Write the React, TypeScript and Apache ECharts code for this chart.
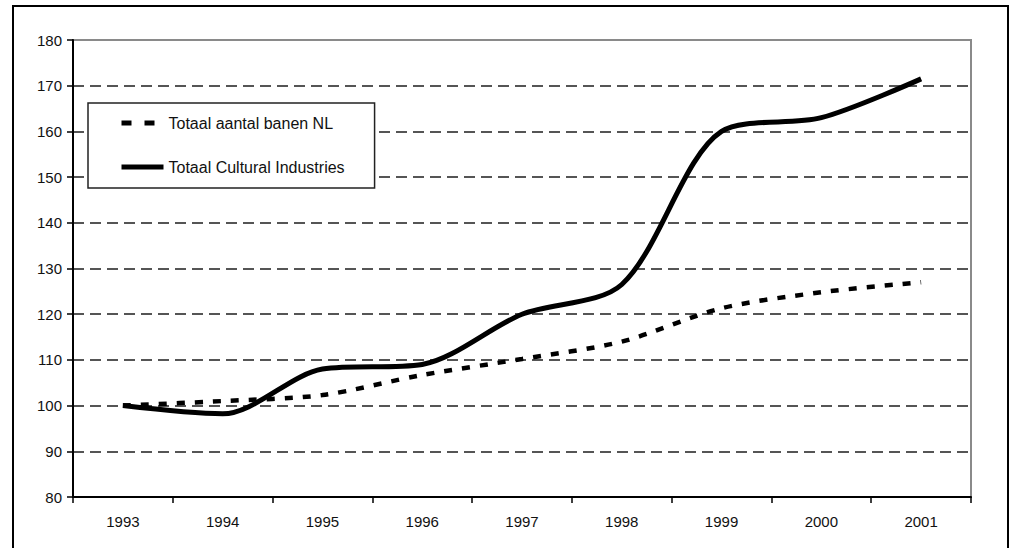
import React, { useEffect, useRef } from "react";
import * as echarts from "echarts";

const years = ["1993", "1994", "1995", "1996", "1997", "1998", "1999", "2000", "2001"];
const banenNL = [100, 101, 102.3, 106.7, 110.2, 114, 121.3, 124.8, 127];
const culturalIndustries = [100, 98.2, 108, 109, 120, 126.5, 160, 163, 171.5];
const seriesNames = ["Totaal aantal banen NL", "Totaal Cultural Industries"];

const FONT = "'Liberation Sans', Arial, sans-serif";

export default function App() {
  const ref = useRef<HTMLDivElement>(null);
  useEffect(() => {
    if (!ref.current) return;
    const chart = echarts.init(ref.current, undefined, { renderer: "svg" });
    chart.setOption({
      animation: false,
      backgroundColor: "#ffffff",
      textStyle: { fontFamily: FONT },
      grid: {
        left: 73,
        right: 40,
        top: 40,
        bottom: 51,
        show: true,
        borderColor: "#8a8a8a",
        borderWidth: 2,
        backgroundColor: "transparent",
      },
      legend: {
        left: 88,
        top: 103,
        orient: "vertical",
        itemWidth: 42,
        itemHeight: 14,
        itemGap: 28,
        padding: [12, 30, 13, 31],
        borderColor: "#222",
        borderWidth: 1.5,
        backgroundColor: "#fff",
        itemStyle: { opacity: 0, color: "transparent", borderWidth: 0 },
        textStyle: { fontFamily: FONT, fontSize: 16, color: "#111" },
        data: [
          { name: seriesNames[0], lineStyle: { width: 5, type: [10, 13], color: "#000" } },
          { name: seriesNames[1], lineStyle: { width: 5, type: "solid", color: "#000" } },
        ],
      },
      xAxis: {
        type: "category",
        data: years,
        boundaryGap: true,
        axisLine: { lineStyle: { color: "#000", width: 2 } },
        axisTick: { show: true, length: 6, lineStyle: { color: "#000", width: 1.5 } },
        axisLabel: { fontFamily: FONT, fontSize: 15, color: "#111", margin: 17 },
        splitLine: { show: false },
      },
      yAxis: {
        type: "value",
        min: 80,
        max: 180,
        interval: 10,
        axisLine: { show: true, lineStyle: { color: "#000", width: 2 } },
        axisTick: { show: true, length: 6, lineStyle: { color: "#000", width: 1.5 } },
        axisLabel: { fontFamily: FONT, fontSize: 15, color: "#111", margin: 11 },
        splitLine: {
          show: true,
          showMaxLine: false,
          showMinLine: false,
          lineStyle: { color: "#555", width: 2, type: [11, 6] },
        },
      },
      series: [
        {
          name: seriesNames[0],
          type: "line",
          data: banenNL,
          smooth: 0.3,
          symbol: "none",
          lineStyle: { color: "#000", width: 4.5, type: [8, 10] },
          itemStyle: { color: "#000" },
          z: 3,
        },
        {
          name: seriesNames[1],
          type: "line",
          data: culturalIndustries,
          smooth: 0.3,
          symbol: "none",
          lineStyle: { color: "#000", width: 5 },
          itemStyle: { color: "#000" },
          z: 4,
        },
      ],
      graphic: [
        {
          type: "rect",
          shape: { x: 13, y: 6, width: 995, height: 620 },
          style: { fill: "none", stroke: "#000", lineWidth: 2 },
          silent: true,
        },
      ],
    });
    return () => chart.dispose();
  }, []);
  return (
    <div
      ref={ref}
      style={{ position: "fixed", left: 0, top: 0, width: 1011, height: 548 }}
    />
  );
}
